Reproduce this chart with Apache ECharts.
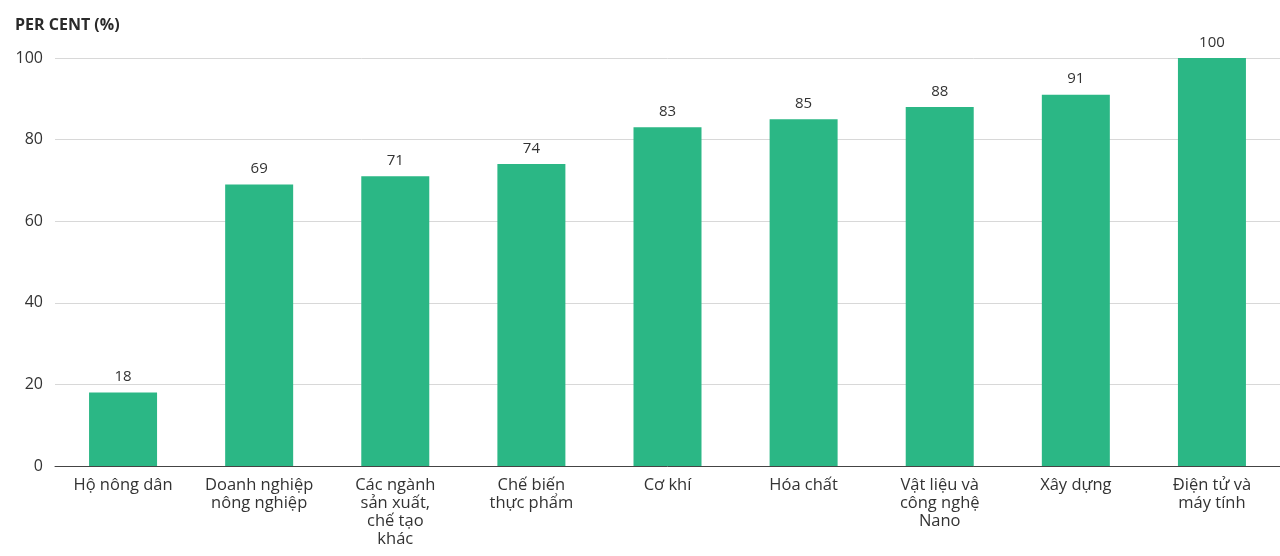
<!DOCTYPE html>
<html>
<head>
<meta charset="utf-8">
<script src="https://cdn.jsdelivr.net/npm/echarts@6/dist/echarts.min.js"></script>
<style>
  html, body { margin: 0; padding: 0; background: #fff; }
  #chart { width: 1280px; height: 556px; }
</style>
</head>
<body>
<div id="chart"></div>
<script>
const categories = [
  "Hộ nông dân",
  "Doanh nghiệp\nnông nghiệp",
  "Các ngành\nsản xuất,\nchế tạo\nkhác",
  "Chế biến\nthực phẩm",
  "Cơ khí",
  "Hóa chất",
  "Vật liệu và\ncông nghệ\nNano",
  "Xây dựng",
  "Điện tử và\nmáy tính"
];
const values = [18, 69, 71, 74, 83, 85, 88, 91, 100];
const yTicks = [0, 20, 40, 60, 80, 100];

const chart = echarts.init(document.getElementById("chart"));
chart.setOption({
  backgroundColor: "#fff",
  textStyle: { fontFamily: "Open Sans" },
  title: {
    text: "PER CENT (%)",
    left: 10, top: 12,
    textStyle: { fontSize: 16, fontWeight: "bold", color: "#2a2a2a", fontFamily: "Open Sans" }
  },
  grid: { left: 55, right: -10, top: 58, bottom: 90 },
  xAxis: {
    type: "category",
    data: categories,
    axisLine: { lineStyle: { color: "#444", width: 1 } },
    axisTick: { show: false },
    axisLabel: { color: "#333", fontSize: 16.5, lineHeight: 18, margin: 10, interval: 0 }
  },
  yAxis: {
    type: "value",
    min: yTicks[0],
    max: yTicks[yTicks.length - 1],
    interval: 20,
    axisLine: { show: false },
    axisTick: { show: false },
    splitLine: { lineStyle: { color: "#d8d8d8" } },
    axisLabel: { color: "#333", fontSize: 16, margin: 12 }
  },
  series: [{
    type: "bar",
    data: values,
    barWidth: 68,
    itemStyle: { color: "#2bb785" },
    label: { show: true, position: "top", distance: 8, color: "#333", fontSize: 15 }
  }]
});
</script>
</body>
</html>
